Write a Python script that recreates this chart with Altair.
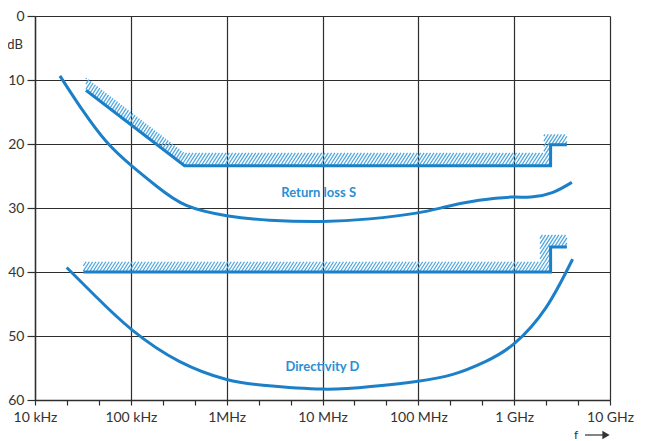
import math
import altair as alt
import pandas as pd

# ---------------- data ----------------
# Return loss S (frequency in Hz, dB)
s_freq = [18.2e3, 31.6e3, 56e3, 100e3, 186e3, 380e3, 1.0e6, 2.8e6, 10e6, 31e6,
          95e6, 195e6, 430e6, 930e6, 1.5e9, 2.5e9, 4.0e9]
s_db = [9.35, 14.8, 19.7, 23.3, 26.6, 29.6, 31.2, 31.9, 32.1, 31.7,
        30.8, 29.8, 28.8, 28.3, 28.3, 27.6, 26.0]

# Directivity D
d_freq = [21.4e3, 43.6e3, 102e3, 324e3, 1.0e6, 2.4e6, 10e6, 32e6, 95e6, 229e6,
          500e6, 1.0e9, 2.14e9, 4.07e9]
d_db = [39.3, 43.9, 49.0, 54.0, 56.8, 57.7, 58.3, 57.9, 57.1, 56.0,
        54.0, 51.2, 45.6, 38.0]

# Limit lines
rl_lim_freq = [34e3, 363e3, 2.4e9, 2.4e9, 3.55e9]
rl_lim_db = [11.6, 23.4, 23.4, 20.1, 20.1]
d_lim_freq = [32e3, 2.4e9, 2.4e9, 3.55e9]
d_lim_db = [40.0, 40.0, 36.1, 36.1]

# hatch band thickness (dB) and step blocks
rl_band = 2.0
d_band = 1.6
rl_block_left = 2.04e9
d_block_left = 1.86e9
rl_block_top = 18.5
d_block_top = 34.2

# axis ticks / labels
NB = "\u00a0"
decades = [1e4, 1e5, 1e6, 1e7, 1e8, 1e9, 1e10]
decade_labels = ["10 kHz", "100 kHz", NB * 6 + "1MHz", "10 MHz", "100 MHz",
                 NB * 6 + "1" + NB + "GHz", "10 GHz"]
db_ticks = [0, 10, 20, 30, 40, 50, 60]

annotations = pd.DataFrame({
    "f": [10 ** 6.96, 10 ** 7.0],
    "db": [27.7, 54.8],
    "label": ["Return loss S", "Directivity D"],
})

# ---------------- styling ----------------
W, H = 575, 384
BLUE = "#1b80c8"
HATCH = "#4da6de"
TEXTBLUE = "#2a8fd4"
GRID = "#2e2e2e"
FONT = "Lato"

lg = math.log10
PX = W / 6.0
PY = H / 60.0

# ---------------- hatch generation (decoration) ----------------
ang = math.radians(57)
dvec = (math.cos(ang), -math.sin(ang))
nvec = (math.sin(ang), math.cos(ang))
spacing = 3.3 * math.sin(ang)


def hatch(poly):
    P = [(lg(f) * PX, db * PY) for f, db in poly]
    m = len(P)
    area = sum(P[i][0] * P[(i + 1) % m][1] - P[(i + 1) % m][0] * P[i][1] for i in range(m))
    cs = [nvec[0] * x + nvec[1] * y for x, y in P]
    kmin = math.ceil(min(cs) / spacing)
    kmax = math.floor(max(cs) / spacing)
    segs = []
    for k in range(kmin, kmax + 1):
        c = k * spacing
        p0 = (c * nvec[0], c * nvec[1])
        lo, hi = -1e9, 1e9
        ok = True
        for i in range(m):
            A = P[i]
            B = P[(i + 1) % m]
            e = (B[0] - A[0], B[1] - A[1])
            mi = (-e[1], e[0]) if area > 0 else (e[1], -e[0])
            num = mi[0] * (p0[0] - A[0]) + mi[1] * (p0[1] - A[1])
            den = mi[0] * dvec[0] + mi[1] * dvec[1]
            if abs(den) < 1e-12:
                if num < 0:
                    ok = False
                    break
            else:
                t = -num / den
                if den > 0:
                    lo = max(lo, t)
                else:
                    hi = min(hi, t)
        if ok and hi - lo > 0.3:
            a = (p0[0] + lo * dvec[0], p0[1] + lo * dvec[1])
            b = (p0[0] + hi * dvec[0], p0[1] + hi * dvec[1])
            segs.append({"f": 10 ** (a[0] / PX), "db": a[1] / PY,
                         "f2": 10 ** (b[0] / PX), "db2": b[1] / PY})
    return segs


regions = []
# return-loss limit: diagonal band, horizontal band, step block
x0, x1, xs, xe = rl_lim_freq[0], rl_lim_freq[1], rl_lim_freq[2], rl_lim_freq[4]
y0, y1, yu = rl_lim_db[0], rl_lim_db[1], rl_lim_db[3]
regions.append([(x0, y0), (x1, y1), (x1, y1 - rl_band), (x0, y0 - rl_band)])
regions.append([(x1, y1), (xs, y1), (xs, y1 - rl_band), (x1, y1 - rl_band)])
regions.append([(rl_block_left, yu), (xe, yu), (xe, rl_block_top), (rl_block_left, rl_block_top)])
regions.append([(rl_block_left, y1 - rl_band), (xs, y1 - rl_band), (xs, yu), (rl_block_left, yu)])
# directivity limit
x0, xs, xe = d_lim_freq[0], d_lim_freq[1], d_lim_freq[3]
y0, yu = d_lim_db[0], d_lim_db[2]
regions.append([(x0, y0), (xs, y0), (xs, y0 - d_band), (x0, y0 - d_band)])
regions.append([(d_block_left, yu), (xe, yu), (xe, d_block_top), (d_block_left, d_block_top)])
regions.append([(d_block_left, y0 - d_band), (xs, y0 - d_band), (xs, yu), (d_block_left, yu)])

hatch_rows = []
for r in regions:
    hatch_rows += hatch(r)
hatch_df = pd.DataFrame(hatch_rows)

# ---------------- scales / axes ----------------
minor = []
for e in range(4, 10):
    for j in range(3):
        minor.append(10 ** (e + j / 3.0))
minor.append(1e10)

L = "(log(datum.value)/LN10)"
label_expr = f"abs({L} - round({L})) > 0.02 ? '' : "
for dv, lab in zip(decades, decade_labels):
    label_expr += f"round({L}) == {int(round(lg(dv)))} ? '{lab}' : "
label_expr += "''"

xs_scale = alt.Scale(type="log", domain=[decades[0], decades[-1]], nice=False)
ys_scale = alt.Scale(domain=[0, 60], reverse=True, nice=False, zero=False)

xaxis = alt.Axis(
    values=minor, labelExpr=label_expr, title=None,
    grid=True, gridColor=GRID, gridWidth=1.2,
    gridOpacity={"condition": {"test": f"abs({L} - round({L})) < 0.02", "value": 1}, "value": 0},
    domainColor=GRID, domainWidth=1.4, tickColor=GRID, tickWidth=1.2, tickSize=5,
    labelFont=FONT, labelFontSize=14, labelColor="#333333", labelPadding=5,
    labelFlush=False, labelOverlap=False,
)
yaxis = alt.Axis(
    values=db_ticks, title=None, grid=True, gridColor=GRID, gridWidth=1.2,
    domainColor=GRID, domainWidth=1.4, tickColor=GRID, tickWidth=1.2, tickSize=8,
    labelFont=FONT, labelFontSize=14, labelColor="#333333", labelPadding=3,
)


def X(field):
    return alt.X(field, type="quantitative", scale=xs_scale, axis=xaxis)


def Y(field):
    return alt.Y(field, type="quantitative", scale=ys_scale, axis=yaxis)


def curve_df(fr, db):
    return pd.DataFrame({"f": fr, "db": db, "i": list(range(len(fr)))})


hatch_layer = alt.Chart(hatch_df).mark_rule(color=HATCH, strokeWidth=1.25).encode(
    x=X("f"), x2="f2", y=Y("db"), y2="db2")

s_layer = alt.Chart(curve_df(s_freq, s_db)).mark_line(
    color=BLUE, strokeWidth=3, interpolate="natural").encode(
    x=X("f"), y=Y("db"), order="i:Q")
d_layer = alt.Chart(curve_df(d_freq, d_db)).mark_line(
    color=BLUE, strokeWidth=3, interpolate="natural").encode(
    x=X("f"), y=Y("db"), order="i:Q")
rl_lim_layer = alt.Chart(curve_df(rl_lim_freq, rl_lim_db)).mark_line(
    color=BLUE, strokeWidth=3, strokeJoin="miter").encode(
    x=X("f"), y=Y("db"), order="i:Q")
d_lim_layer = alt.Chart(curve_df(d_lim_freq, d_lim_db)).mark_line(
    color=BLUE, strokeWidth=3, strokeJoin="miter").encode(
    x=X("f"), y=Y("db"), order="i:Q")

label_layer = alt.Chart(annotations).mark_text(
    font=FONT, fontSize=13, fontWeight="bold", color=TEXTBLUE, align="center",
    baseline="middle").encode(x=X("f"), y=Y("db"), text="label:N")

db_unit = alt.Chart(pd.DataFrame({"db": [4.5], "t": ["dB"]})).mark_text(
    font=FONT, fontSize=13, color="#333333", align="center", baseline="middle").encode(
    x=alt.value(-20), y=Y("db"), text="t:N")

f_text = alt.Chart(pd.DataFrame({"t": ["f"]})).mark_text(
    font=FONT, fontSize=12, color="#333333", align="center", baseline="middle").encode(
    x=alt.value(541), y=alt.value(419), text="t:N")
arrow_line = alt.Chart(pd.DataFrame({"a": [0]})).mark_rule(
    color="#333333", strokeWidth=1.2).encode(
    x=alt.value(550), x2=alt.value(568), y=alt.value(419))
arrow_head = alt.Chart(pd.DataFrame({"a": [0]})).mark_point(
    shape="triangle-right", filled=True, color="#333333", size=70, opacity=1).encode(
    x=alt.value(571), y=alt.value(419))

chart = alt.layer(
    hatch_layer, s_layer, d_layer, rl_lim_layer, d_lim_layer,
    label_layer, db_unit, f_text, arrow_line, arrow_head,
).properties(
    width=W, height=H,
    autosize=alt.AutoSizeParams(type="none"),
    padding={"left": 27, "top": 8, "right": 29, "bottom": 41},
    background="white",
).configure_view(stroke=None)

chart.save("out.html", embed_options={"renderer": "svg", "actions": False})
